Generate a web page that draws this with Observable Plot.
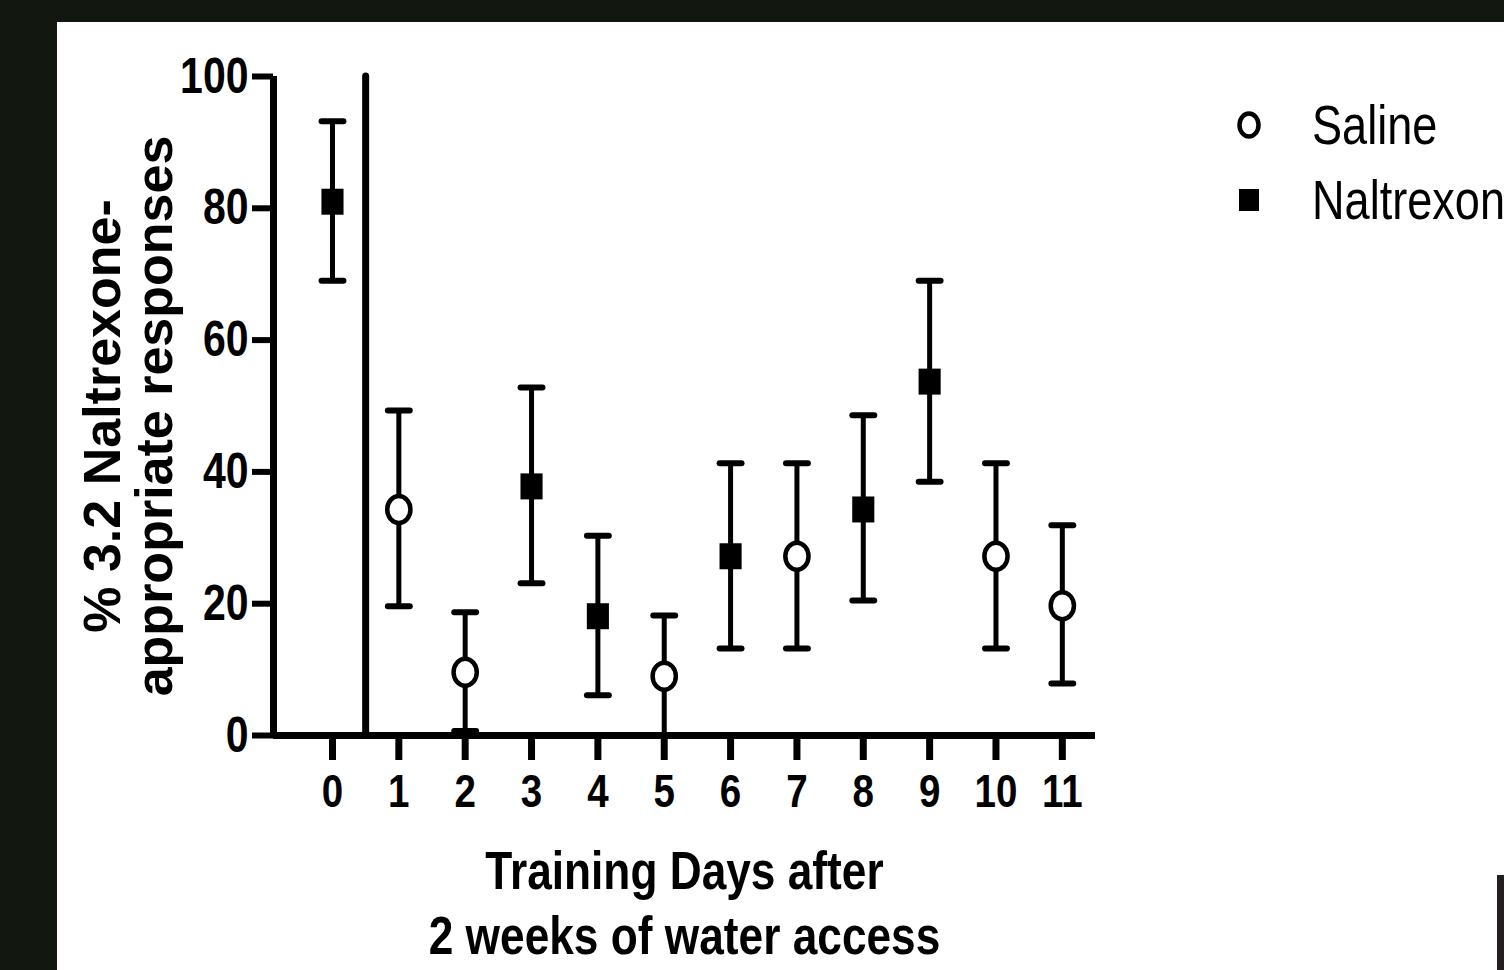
<!DOCTYPE html>
<html>
<head>
<meta charset="utf-8">
<script src="https://cdn.jsdelivr.net/npm/d3@7"></script>
<script src="https://cdn.jsdelivr.net/npm/@observablehq/plot@0.6"></script>
<style>
  html, body { margin: 0; padding: 0; width: 1504px; height: 970px; overflow: hidden; background: #121710; }
  #panel { position: absolute; left: 57px; top: 22px; width: 1447px; height: 948px; background: #ffffff; }
  #chart { position: absolute; left: 0; top: 0; }
  #legend { position: absolute; left: 0; top: 0; }
  #corner { position: absolute; left: 1497px; top: 875px; width: 7px; height: 95px; background: #231f20; }
</style>
</head>
<body>
<div id="panel"></div>
<div id="chart"></div>
<div id="legend"></div>
<div id="corner"></div>
<script>
// ---- data ----
const days = [0, 1, 2, 3, 4, 5, 6, 7, 8, 9, 10, 11];
const groups = ["Naltrexone", "Saline", "Saline", "Naltrexone", "Naltrexone", "Saline",
                "Naltrexone", "Saline", "Naltrexone", "Naltrexone", "Saline", "Saline"];
const means = [81.0, 34.3, 9.6, 37.8, 18.1, 9.0, 27.2, 27.2, 34.3, 53.7, 27.2, 19.7];
const upper = [93.2, 49.3, 18.7, 52.8, 30.3, 18.2, 41.3, 41.3, 48.6, 69.0, 41.3, 31.9];
const lower = [69.0, 19.6, 0.7, 23.1, 6.1, 0.0, 13.2, 13.2, 20.5, 38.5, 13.2, 7.9];
const yTicks = [0, 20, 40, 60, 80, 100];
const seriesNames = ["Saline", "Naltrexone"];
const xTitle = "Training Days after\n2 weeks of water access";
const yTitle = "% 3.2 Naltrexone-\nappropriate responses";

const data = days.map((d, i) => ({day: d, group: groups[i], mean: means[i], hi: upper[i], lo: lower[i]}));
const saline = data.filter(d => d.group === "Saline");
const nalt = data.filter(d => d.group === "Naltrexone");

// slightly tall symbols as in the reference
const ellipseSym = {
  draw(ctx, size) {
    const r = Math.sqrt(size / Math.PI), rx = r * 0.86, ry = r, k = 0.5523;
    ctx.moveTo(rx, 0);
    ctx.bezierCurveTo(rx, ry * k, rx * k, ry, 0, ry);
    ctx.bezierCurveTo(-rx * k, ry, -rx, ry * k, -rx, 0);
    ctx.bezierCurveTo(-rx, -ry * k, -rx * k, -ry, 0, -ry);
    ctx.bezierCurveTo(rx * k, -ry, rx, -ry * k, rx, 0);
    ctx.closePath();
  }
};
const rectSym = {
  draw(ctx, size) {
    const r = Math.sqrt(size / Math.PI), h = r, w = r * 0.85;
    ctx.rect(-w, -h, 2 * w, 2 * h);
  }
};

const capHalf = 0.165;
const xMin = -0.889, xMax = 11.5;
const font = "'Liberation Sans', Arial, Helvetica, sans-serif";
const narrow = 0.82; // horizontal squeeze to mimic a condensed face

const chart = Plot.plot({
  width: 1504,
  height: 970,
  marginLeft: 273,
  marginRight: 409,
  marginTop: 76,
  marginBottom: 235,
  x: {domain: [xMin, xMax]},
  y: {domain: [0, 100]},
  style: {background: "transparent", fontFamily: font, fontWeight: "bold", color: "#000", overflow: "visible"},
  marks: [
    Plot.axisY({ticks: yTicks, tickSize: 21, tickPadding: 4, strokeWidth: 6, fontSize: 50, label: null}),
    Plot.axisX({ticks: days, tickSize: 25, tickPadding: 13, strokeWidth: 7, fontSize: 47, label: null}),
    Plot.ruleY([0], {stroke: "#000", strokeWidth: 7}),
    Plot.ruleX([xMin], {stroke: "#000", strokeWidth: 7}),
    Plot.ruleX([0.5], {stroke: "#000", strokeWidth: 7, strokeLinecap: "round"}),
    Plot.ruleX(data, {x: "day", y1: "lo", y2: "hi", stroke: "#000", strokeWidth: 5}),
    Plot.link(data, {x1: d => d.day - capHalf, x2: d => d.day + capHalf, y1: "hi", y2: "hi",
                     stroke: "#000", strokeWidth: 6, strokeLinecap: "round"}),
    Plot.link(data.filter(d => d.lo > 0), {x1: d => d.day - capHalf, x2: d => d.day + capHalf, y1: "lo", y2: "lo",
                     stroke: "#000", strokeWidth: 6, strokeLinecap: "round"}),
    Plot.dot(saline, {x: "day", y: "mean", r: 13.5, symbol: ellipseSym, fill: "#fff", stroke: "#000", strokeWidth: 4.5}),
    Plot.dot(nalt, {x: "day", y: "mean", r: 13, symbol: rectSym, fill: "#000", stroke: "none"}),
    Plot.text([xTitle], {frameAnchor: "bottom", textAnchor: "middle", lineAnchor: "top", dy: 108, fontSize: 53,
                         lineHeight: 1.22, fontWeight: "bold", fill: "#000"}),
    Plot.text([yTitle], {frameAnchor: "left", textAnchor: "middle", lineAnchor: "middle", rotate: -90,
                         dx: -144, dy: 10, fontSize: 52, lineHeight: 1.0,
                         fontWeight: "bold", fill: "#000"})
  ]
});
document.getElementById("chart").appendChild(chart);

// squeeze condensed texts horizontally around their own anchor
function squeeze(el, s) {
  const ax = parseFloat(el.getAttribute("x") || 0);
  const t = el.getAttribute("transform") || "";
  el.setAttribute("transform", `${t} translate(${ax},0) scale(${s},1) translate(${-ax},0)`);
}
chart.querySelectorAll('g[aria-label="x-axis tick label"] text, g[aria-label="y-axis tick label"] text')
  .forEach(el => squeeze(el, narrow));
chart.querySelectorAll("text").forEach(el => {
  if (el.textContent.startsWith("Training")) squeeze(el, 0.835);
});

// ---- legend ----
const ns = "http://www.w3.org/2000/svg";
const lg = document.createElementNS(ns, "svg");
lg.setAttribute("width", 1504);
lg.setAttribute("height", 260);
lg.style.overflow = "hidden";
const rowY = [125, 200];
seriesNames.forEach((name, i) => {
  const cy = rowY[i];
  if (name === "Saline") {
    const e = document.createElementNS(ns, "ellipse");
    e.setAttribute("cx", 1249); e.setAttribute("cy", cy);
    e.setAttribute("rx", 9.5); e.setAttribute("ry", 11.5);
    e.setAttribute("fill", "#fff"); e.setAttribute("stroke", "#000"); e.setAttribute("stroke-width", 4.5);
    lg.appendChild(e);
  } else {
    const r = document.createElementNS(ns, "rect");
    r.setAttribute("x", 1239); r.setAttribute("y", cy - 11);
    r.setAttribute("width", 20); r.setAttribute("height", 22);
    r.setAttribute("fill", "#000");
    lg.appendChild(r);
  }
  const t = document.createElementNS(ns, "text");
  t.setAttribute("x", 1312); t.setAttribute("y", cy + 19);
  t.setAttribute("font-family", font); t.setAttribute("font-size", 55); t.setAttribute("fill", "#000");
  t.textContent = name;
  squeeze(t, narrow);
  lg.appendChild(t);
});
document.getElementById("legend").appendChild(lg);
</script>
</body>
</html>
